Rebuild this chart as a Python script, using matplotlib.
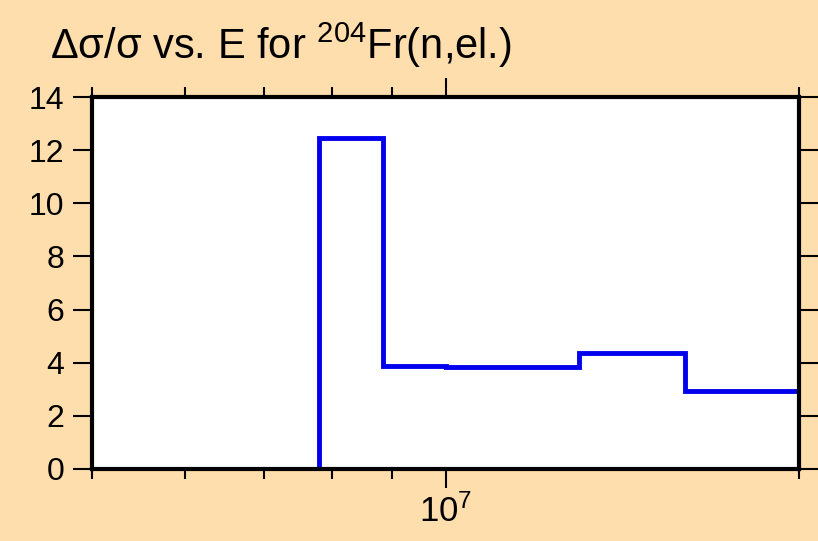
import matplotlib
matplotlib.use("Agg")
import matplotlib.pyplot as plt
from matplotlib.ticker import FixedLocator, NullFormatter

plt.rcParams['font.family'] = ['Liberation Sans', 'DejaVu Sans']
plt.rcParams['mathtext.fontset'] = 'custom'
plt.rcParams['mathtext.rm'] = 'Liberation Sans'
plt.rcParams['mathtext.it'] = 'Liberation Sans'

# Data
bin_edges = [7.8e6, 8.85e6, 1.0e7, 1.3e7, 1.6e7, 2.0e7]
rel_unc = [12.45, 3.88, 3.82, 4.35, 2.95]
y_ticks = [0, 2, 4, 6, 8, 10, 12, 14]
x_minor = [5e6, 6e6, 7e6, 8e6, 9e6, 2e7]
x_major = [1e7]
x_major_labels = ['$10^7$']

bg = '#FFDEAD'
fig = plt.figure(figsize=(8.18, 5.41), dpi=100, facecolor=bg)
ax = fig.add_axes([0.1125, 0.1331, 0.8643, 0.6876])
ax.set_facecolor('white')

ax.stairs(rel_unc, bin_edges, baseline=0, fill=False, color='#0000EE', lw=3.5, zorder=3)

ax.set_xscale('log')
ax.set_xlim(5e6, 2e7)
ax.set_ylim(0, 14)

ax.xaxis.set_major_locator(FixedLocator(x_major))
ax.set_xticklabels(x_major_labels)
ax.xaxis.set_minor_locator(FixedLocator(x_minor))
ax.xaxis.set_minor_formatter(NullFormatter())
ax.set_yticks(y_ticks)

for s in ax.spines.values():
    s.set_linewidth(3)
    s.set_zorder(4)

ax.tick_params(axis='both', which='both', direction='out', width=1.5,
               top=True, right=True, labelsize=23, colors='black')
ax.tick_params(axis='x', which='major', length=14, pad=4, labelsize=25)
ax.tick_params(axis='x', which='minor', length=7)
ax.tick_params(axis='y', which='major', length=14, pad=6)
ax.tick_params(axis='both', labelright=False, labeltop=False)

fig.text(0.061, 0.917, 'Δσ/σ vs. E for $^{204}$Fr(n,el.)', fontsize=30,
         ha='left', va='center')

fig.savefig('out.png', dpi=100, facecolor=bg)
